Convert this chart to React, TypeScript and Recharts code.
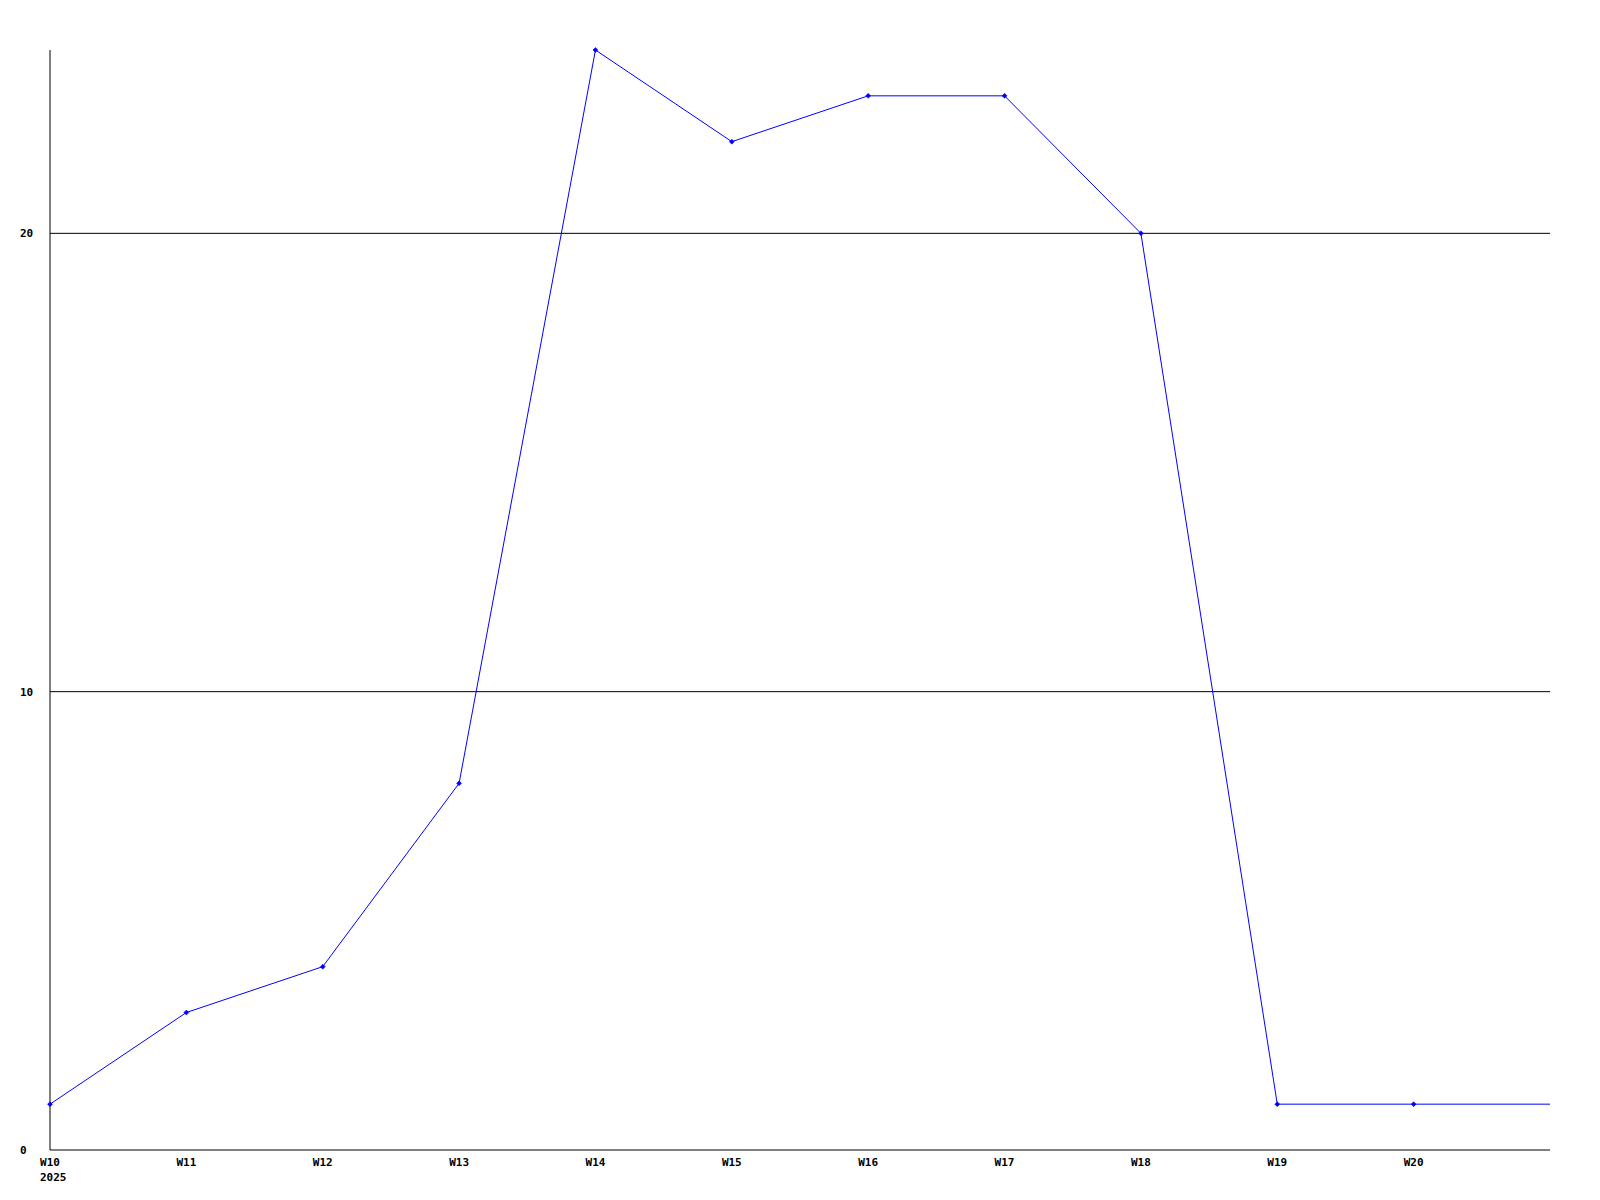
import React from "react";
import { LineChart, Line, XAxis, YAxis, ReferenceLine } from "recharts";

const weeks = ["W10", "W11", "W12", "W13", "W14", "W15", "W16", "W17", "W18", "W19", "W20", "W21"];
const values = [1, 3, 4, 8, 24, 22, 23, 23, 20, 1, 1, 1];
const yearLabel = "2025";
const yTicks = [0, 10, 20];
const gridValues = [10, 20];
const labeledCount = 11;

const data = weeks.map((w, i) => ({ i, week: w, value: values[i] }));
const xTicks = data.slice(0, labeledCount).map((d) => d.i);

const FONT = "'DejaVu Sans Mono', 'Liberation Mono', monospace";

const XTick = (props: any) => {
  const { x, y, payload } = props;
  const idx = payload.value as number;
  return (
    <g>
      <text x={x} y={y + 16} textAnchor="middle" fontFamily={FONT} fontWeight="bold" fontSize={11} fill="#000">
        {weeks[idx]}
      </text>
      {idx === 0 && (
        <text x={x - 10} y={y + 31} textAnchor="start" fontFamily={FONT} fontWeight="bold" fontSize={11} fill="#000">
          {yearLabel}
        </text>
      )}
    </g>
  );
};

const YTick = (props: any) => {
  const { x, y, payload } = props;
  return (
    <text x={x - 30} y={y + 4} textAnchor="start" fontFamily={FONT} fontWeight="bold" fontSize={11} fill="#000">
      {payload.value}
    </text>
  );
};

const Dot = (props: any) => {
  const { cx, cy, index } = props;
  if (index >= labeledCount || cx == null || cy == null) return <g key={`d${index}`} />;
  const r = 2.5;
  return (
    <polygon
      key={`d${index}`}
      points={`${cx},${cy - r} ${cx + r},${cy} ${cx},${cy + r} ${cx - r},${cy}`}
      fill="#0000ff"
      stroke="#0000ff"
      strokeWidth={0.5}
    />
  );
};

export default function App() {
  return (
    <div style={{ position: "absolute", left: 0, top: 0, width: 1600, height: 1200, background: "#fff" }}>
      <LineChart width={1600} height={1200} data={data} margin={{ top: 50, right: 50, bottom: 0, left: 0 }}>
        <XAxis
          dataKey="i"
          type="number"
          domain={[0, 11]}
          ticks={xTicks}
          interval={0}
          height={50}
          tickSize={0}
          tickMargin={0}
          tickLine={false}
          axisLine={{ stroke: "#000", strokeWidth: 1 }}
          tick={<XTick />}
        />
        <YAxis
          type="number"
          domain={[0, 24]}
          ticks={yTicks}
          width={50}
          tickSize={0}
          tickMargin={0}
          tickLine={false}
          axisLine={{ stroke: "#000", strokeWidth: 1 }}
          tick={<YTick />}
        />
        {gridValues.map((v) => (
          <ReferenceLine key={v} y={v} stroke="#000" strokeWidth={1} ifOverflow="extendDomain" />
        ))}
        <Line
          type="linear"
          dataKey="value"
          stroke="#0000ff"
          strokeWidth={1}
          dot={<Dot />}
          activeDot={false}
          isAnimationActive={false}
        />
      </LineChart>
    </div>
  );
}
